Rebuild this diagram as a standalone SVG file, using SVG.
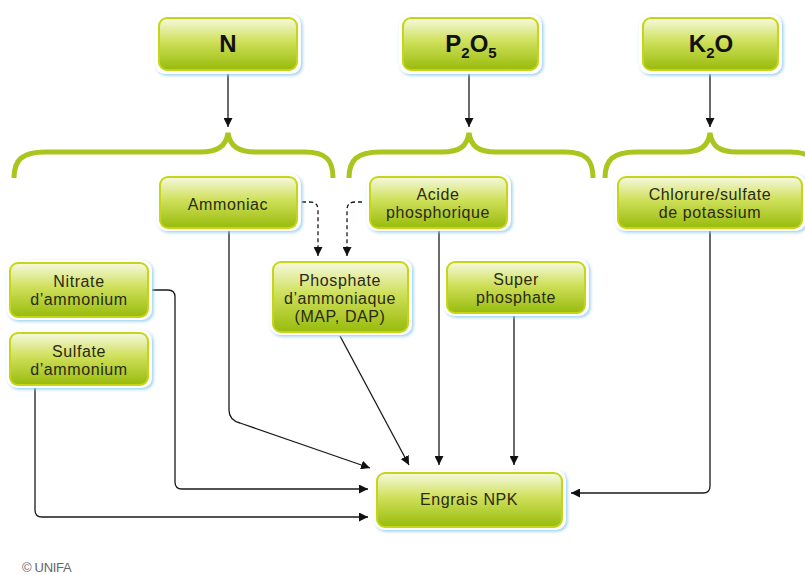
<svg xmlns="http://www.w3.org/2000/svg" width="805" height="575" viewBox="0 0 805 575">
<defs>
<linearGradient id="g" x1="0" y1="0" x2="0" y2="1">
<stop offset="0" stop-color="#f6f9e0"/>
<stop offset="0.45" stop-color="#cfe05a"/>
<stop offset="1" stop-color="#98bb0c"/>
</linearGradient>
<filter id="glow" x="-10%" y="-20%" width="120%" height="140%">
<feDropShadow dx="1.5" dy="1.5" stdDeviation="1.8" flood-color="#8fcbea" flood-opacity="0.9"/>
</filter>
<marker id="ah" viewBox="0 0 10 10" refX="10" refY="5" markerWidth="9" markerHeight="9" markerUnits="userSpaceOnUse" orient="auto">
<path d="M0,0 L10,5 L0,10 Z" fill="#111"/>
</marker>
</defs>
<style>
.box{fill:url(#g);stroke:#c5d61a;stroke-width:2}
.bg{fill:#fff;filter:url(#glow)}
.t{font-family:"Liberation Sans",Arial,sans-serif;font-size:16px;fill:#2a2a14;text-anchor:middle;letter-spacing:0.6px}
.h{font-family:"Liberation Sans",Arial,sans-serif;font-size:24px;font-weight:bold;fill:#111;text-anchor:middle}
.s{font-size:15px}
.c{fill:none;stroke:#1a1a1a;stroke-width:1.3}
.d{fill:none;stroke:#1a1a1a;stroke-width:1.3;stroke-dasharray:4 3}
.br{fill:none;stroke:#a9c61e;stroke-width:5;stroke-linecap:butt}
</style>
<rect width="805" height="575" fill="#fff"/>

<g id="braces">
<path class="br" d="M14,178 C14,160 22,152 45,152 L200,152 C218,152 226,146 228,133 C230,146 238,152 256,152 L305,152 C326,152 333,160 333,178"/>
<path class="br" d="M349,178 C349,160 357,152 380,152 L442,152 C460,152 467,146 469,133 C471,146 478,152 496,152 L565,152 C586,152 593,160 593,178"/>
<path class="br" d="M605,178 C605,160 613,152 636,152 L683,152 C701,152 708,146 710,133 C712,146 719,152 737,152 L790,152 C811,152 818,160 818,178"/>
</g>

<g id="connectors">
<line class="c" x1="228" y1="72" x2="228" y2="127" marker-end="url(#ah)"/>
<line class="c" x1="469" y1="72" x2="469" y2="127" marker-end="url(#ah)"/>
<line class="c" x1="710" y1="72" x2="710" y2="127" marker-end="url(#ah)"/>
<path class="d" d="M302,202 L310,202 Q318,202 318,210 L318,256" marker-end="url(#ah)"/>
<path class="d" d="M362,202 L355,202 Q347,202 347,210 L347,256" marker-end="url(#ah)"/>
<path class="c" d="M229,229 L229,410 Q229,420 240,423 L370,468" marker-end="url(#ah)"/>
<path class="c" d="M149,290 L168,290 Q175,290 175,297 L175,482 Q175,489 182,489 L368,489" marker-end="url(#ah)"/>
<path class="c" d="M35,387 L35,510 Q35,517 42,517 L368,517" marker-end="url(#ah)"/>
<line class="c" x1="340" y1="336" x2="409" y2="465" marker-end="url(#ah)"/>
<line class="c" x1="439" y1="229" x2="439" y2="465" marker-end="url(#ah)"/>
<line class="c" x1="514" y1="314" x2="514" y2="465" marker-end="url(#ah)"/>
<path class="c" d="M710,229 L710,486 Q710,493 703,493 L571,493" marker-end="url(#ah)"/>
</g>

<g id="n-N">
<rect class="bg" x="155" y="14" width="146" height="60" rx="10"/>
<rect class="box" x="159" y="18" width="138" height="52" rx="8"/>
<text class="h" x="228" y="52">N</text>
</g>
<g id="n-P2O5">
<rect class="bg" x="399" y="14" width="143" height="60" rx="10"/>
<rect class="box" x="403" y="18" width="135" height="52" rx="8"/>
<text class="h" x="471" y="52">P<tspan class="s" dy="6">2</tspan><tspan dy="-6">O</tspan><tspan class="s" dy="6">5</tspan></text>
</g>
<g id="n-K2O">
<rect class="bg" x="639" y="14" width="143" height="60" rx="10"/>
<rect class="box" x="643" y="18" width="135" height="52" rx="8"/>
<text class="h" x="711" y="52">K<tspan class="s" dy="6">2</tspan><tspan dy="-6">O</tspan></text>
</g>

<g id="n-ammoniac">
<rect class="bg" x="157" y="174" width="144" height="57" rx="10"/>
<rect class="box" x="160" y="177" width="137" height="51" rx="8"/>
<text class="t" x="228" y="210">Ammoniac</text>
</g>
<g id="n-acide">
<rect class="bg" x="367" y="174" width="144" height="57" rx="10"/>
<rect class="box" x="370" y="177" width="137" height="51" rx="8"/>
<text class="t" x="438" y="200">Acide</text>
<text class="t" x="438" y="218">phosphorique</text>
</g>
<g id="n-chlorure">
<rect class="bg" x="615" y="174" width="191" height="57" rx="10"/>
<rect class="box" x="618" y="177" width="184" height="51" rx="8"/>
<text class="t" x="710" y="200">Chlorure/sulfate</text>
<text class="t" x="710" y="218">de potassium</text>
</g>
<g id="n-nitrate">
<rect class="bg" x="7" y="260" width="145" height="60" rx="10"/>
<rect class="box" x="10" y="263" width="138" height="54" rx="8"/>
<text class="t" x="79" y="287">Nitrate</text>
<text class="t" x="79" y="305">d’ammonium</text>
</g>
<g id="n-sulfate">
<rect class="bg" x="7" y="330" width="145" height="58" rx="10"/>
<rect class="box" x="10" y="333" width="138" height="52" rx="8"/>
<text class="t" x="79" y="357">Sulfate</text>
<text class="t" x="79" y="375">d’ammonium</text>
</g>
<g id="n-phosphate">
<rect class="bg" x="270" y="259" width="142" height="76" rx="10"/>
<rect class="box" x="273" y="262" width="135" height="70" rx="8"/>
<text class="t" x="340" y="286">Phosphate</text>
<text class="t" x="340" y="304">d’ammoniaque</text>
<text class="t" x="340" y="322">(MAP, DAP)</text>
</g>
<g id="n-super">
<rect class="bg" x="444" y="259" width="145" height="57" rx="10"/>
<rect class="box" x="447" y="262" width="138" height="51" rx="8"/>
<text class="t" x="516" y="285">Super</text>
<text class="t" x="516" y="303">phosphate</text>
</g>
<g id="n-npk">
<rect class="bg" x="374" y="470" width="192" height="60" rx="10"/>
<rect class="box" x="377" y="473" width="185" height="54" rx="8"/>
<text class="t" x="469" y="505">Engrais NPK</text>
</g>

<text x="22" y="572" font-family="Liberation Sans,Arial,sans-serif" font-size="13" fill="#666" letter-spacing="-0.3">© UNIFA</text>
</svg>
